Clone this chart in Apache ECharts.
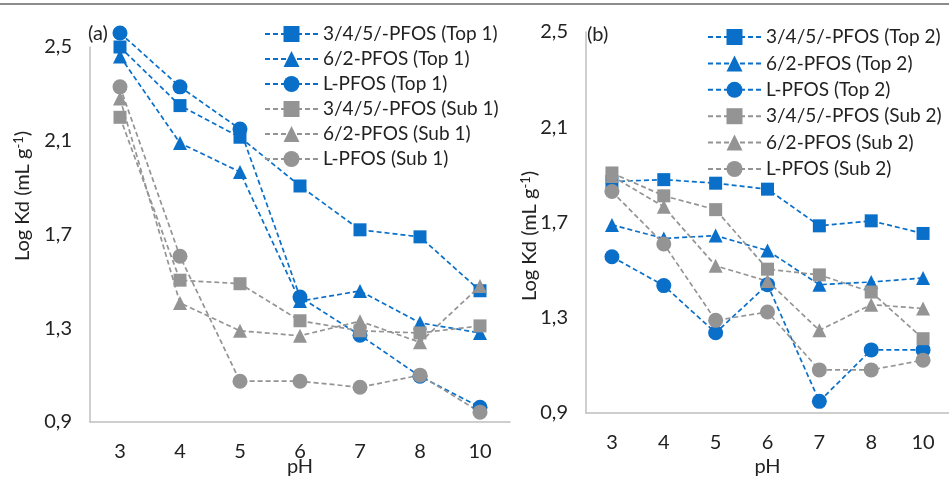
<!DOCTYPE html>
<html><head><meta charset="utf-8">
<script src="https://cdn.jsdelivr.net/npm/echarts@6/dist/echarts.min.js"></script>
<style>html,body{margin:0;padding:0;background:#fff}#c{width:949px;height:482px}</style>
</head><body><div id="c"></div>
<script>
var categories = ['3','4','5','6','7','8','10'];
var yTicks = [0.9, 1.3, 1.7, 2.1, 2.5];

var namesA = ['3/4/5/-PFOS (Top 1)','6/2-PFOS (Top 1)','L-PFOS (Top 1)','3/4/5/-PFOS (Sub 1)','6/2-PFOS (Sub 1)','L-PFOS (Sub 1)'];
var namesB = ['3/4/5/-PFOS (Top 2)','6/2-PFOS (Top 2)','L-PFOS (Top 2)','3/4/5/-PFOS (Sub 2)','6/2-PFOS (Sub 2)','L-PFOS (Sub 2)'];

var top1_345 = [2.50, 2.25, 2.115, 1.907, 1.72, 1.69, 1.46];
var top1_62  = [2.46, 2.09, 1.967, 1.416, 1.459, 1.323, 1.28];
var top1_L   = [2.56, 2.33, 2.15, 1.433, 1.27, 1.095, 0.963];
var sub1_345 = [2.20, 1.505, 1.49, 1.332, 1.289, 1.28, 1.31];
var sub1_62  = [2.28, 1.408, 1.289, 1.268, 1.33, 1.24, 1.48];
var sub1_L   = [2.33, 1.607, 1.074, 1.074, 1.048, 1.10, 0.942];

var top2_345 = [1.872, 1.88, 1.865, 1.84, 1.686, 1.707, 1.654];
var top2_62  = [1.69, 1.633, 1.645, 1.582, 1.439, 1.45, 1.467];
var top2_L   = [1.556, 1.435, 1.237, 1.439, 0.949, 1.165, 1.165];
var sub2_345 = [1.908, 1.812, 1.754, 1.504, 1.48, 1.408, 1.212];
var sub2_62  = [1.895, 1.766, 1.518, 1.454, 1.247, 1.355, 1.339];
var sub2_L   = [1.830, 1.610, 1.289, 1.324, 1.081, 1.081, 1.122];

var BLUE = '#0a6fc9', GRAY = '#949494';
var FONT = 'Lato';
var FS = 20;
var symbols = ['rect','triangle','circle'];
var symSizes = [13, 14, 15];

function mk(name, data, idx, color, k) {
  return {
    name: name, type: 'line', xAxisIndex: idx, yAxisIndex: idx, data: data,
    symbol: symbols[k], symbolSize: symSizes[k], clip: false,
    itemStyle: {color: color},
    lineStyle: {color: color, width: 1.7, type: [5, 3]},
    emphasis: {disabled: true}, animation: false
  };
}
var series = [
  mk(namesA[0], top1_345, 0, BLUE, 0), mk(namesA[1], top1_62, 0, BLUE, 1), mk(namesA[2], top1_L, 0, BLUE, 2),
  mk(namesA[3], sub1_345, 0, GRAY, 0), mk(namesA[4], sub1_62, 0, GRAY, 1), mk(namesA[5], sub1_L, 0, GRAY, 2),
  mk(namesB[0], top2_345, 1, BLUE, 0), mk(namesB[1], top2_62, 1, BLUE, 1), mk(namesB[2], top2_L, 1, BLUE, 2),
  mk(namesB[3], sub2_345, 1, GRAY, 0), mk(namesB[4], sub2_62, 1, GRAY, 1), mk(namesB[5], sub2_L, 1, GRAY, 2)
];

function fmt(v) { return v.toFixed(1).replace('.', ','); }
function xAx(idx, gap) {
  return {type: 'category', gridIndex: idx, data: categories, boundaryGap: true,
    axisLine: {lineStyle: {color: '#bfbfbf', width: 1.5}}, axisTick: {show: false},
    axisLabel: {fontFamily: FONT, fontSize: FS, color: '#222', margin: 20},
    name: 'pH', nameLocation: 'middle', nameGap: gap, nameMoveOverlap: false,
    nameTextStyle: {fontFamily: FONT, fontSize: FS, color: '#222'}};
}
function yAx(idx) {
  return {type: 'value', gridIndex: idx, min: yTicks[0], max: yTicks[yTicks.length-1], interval: 0.4,
    axisLine: {show: true, lineStyle: {color: '#bfbfbf', width: 1.5}}, axisTick: {show: false},
    splitLine: {show: false},
    axisLabel: {fontFamily: FONT, fontSize: FS, color: '#222', margin: 18, formatter: fmt}};
}
function lg(names, left, top, gap) {
  return {data: names, orient: 'vertical', left: left, top: top, itemWidth: 53, itemHeight: 20,
    itemGap: gap, textStyle: {fontFamily: FONT, fontSize: 19, color: '#222', lineHeight: 20}};
}
function ylabel(x, y) {
  return {type: 'text', x: x, y: y, rotation: Math.PI / 2,
    style: {text: '{a|Log Kd (mL g}{s|-1}{a|)}', align: 'center', verticalAlign: 'middle',
      rich: {a: {fontFamily: FONT, fontSize: 20, fill: '#222', color: '#222'},
             s: {fontFamily: FONT, fontSize: 13, fill: '#222', color: '#222', verticalAlign: 'top', padding: [0,0,9,0]}}}};
}

var chart = echarts.init(document.getElementById('c'), null, {renderer: 'canvas'});
chart.setOption({
  animation: false,
  backgroundColor: '#fff',
  grid: [{left: 90, top: 47, width: 420, height: 378},
         {left: 586, top: 32, width: 371, height: 384}],
  xAxis: [xAx(0, 35), xAx(1, 44)],
  yAxis: [yAx(0), yAx(1)],
  legend: [lg(namesA, 259, 19, 5), lg(namesB, 702, 22, 6.4)],
  series: series,
  graphic: [
    {type: 'line', shape: {x1: 0, y1: 4, x2: 949, y2: 4}, style: {stroke: '#666', lineWidth: 1.5}},
    ylabel(23, 196), ylabel(530, 236),
    {type: 'text', x: 88, y: 34, style: {text: '(a)', fontFamily: FONT, fontSize: FS, fill: '#222', verticalAlign: 'middle'}},
    {type: 'text', x: 587, y: 35, style: {text: '(b)', fontFamily: FONT, fontSize: FS, fill: '#222', verticalAlign: 'middle'}}
  ]
});
</script></body></html>
